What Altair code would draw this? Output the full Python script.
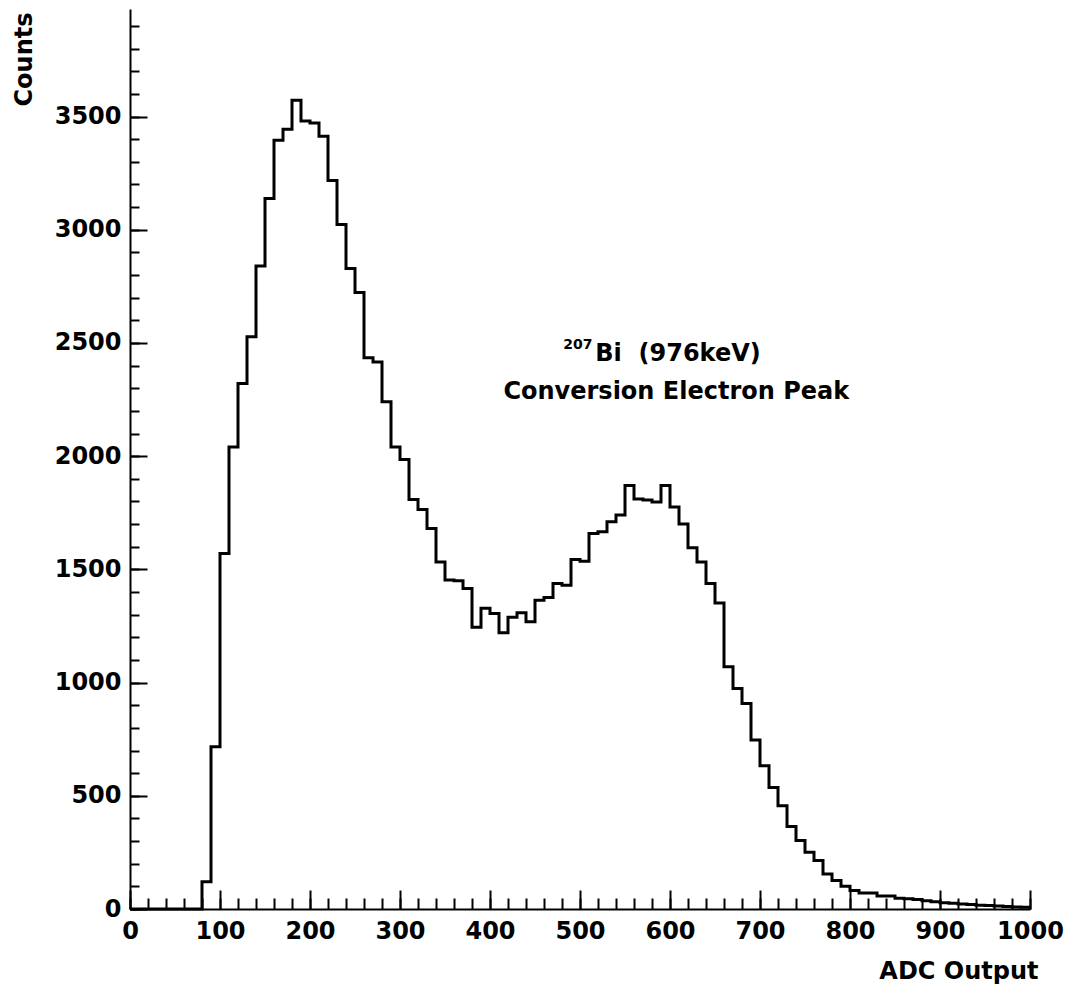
import altair as alt
import pandas as pd

# ---- data ----
bin_starts = list(range(0, 1000, 10))
counts = [
    0, 0, 0, 0, 0, 0, 0, 0, 120, 717,            # 0-90
    1570, 2041, 2321, 2527, 2840, 3138, 3395, 3444, 3572, 3480,   # 100-190
    3472, 3413, 3218, 3023, 2829, 2723, 2435, 2416, 2240, 2041,   # 200-290
    1985, 1809, 1765, 1681, 1533, 1453, 1450, 1416, 1244, 1328,   # 300-390
    1305, 1220, 1289, 1308, 1269, 1364, 1376, 1438, 1430, 1544,   # 400-490
    1536, 1658, 1666, 1710, 1740, 1870, 1811, 1806, 1798, 1870,   # 500-590
    1775, 1700, 1596, 1533, 1438, 1351, 1070, 974, 908, 746,      # 600-690
    633, 537, 456, 364, 302, 251, 214, 155, 126, 101,             # 700-790
    82, 71, 71, 57, 57, 47, 45, 42, 36, 32,                       # 800-890
    28, 25, 22, 20, 17, 15, 13, 11, 9, 8,                         # 900-990
]
x_major_ticks = list(range(0, 1001, 100))
x_minor_ticks = list(range(0, 1001, 20))
y_major_ticks = list(range(0, 3501, 500))
y_minor_ticks = list(range(0, 3901, 100))

x_title = "ADC Output"
y_title = "Counts"
note_sup = "207"
note_line1 = "Bi \u00a0(976keV)"
note_line2 = "Conversion Electron Peak"

# ---- build table ----
df = pd.DataFrame({"adc": bin_starts + [1000], "counts": counts + [counts[-1]]})

W, H = 900, 900
FONT = "DejaVu Sans"
FS = 24
xscale = alt.Scale(domain=[0, 1000], nice=False, zero=False)
yscale = alt.Scale(domain=[0, 3975], nice=False, zero=False)

hist = alt.Chart(df).mark_line(
    interpolate="step-after", color="black", strokeWidth=3
).encode(
    x=alt.X("adc:Q", scale=xscale, axis=alt.Axis(
        values=x_major_ticks, format="d", ticks=False, domainColor="black", domainWidth=2,
        labelFont=FONT, labelFontSize=FS, labelFontWeight="bold", labelColor="black",
        labelPadding=10, labelFlush=False, grid=False,
        title=x_title, titleFont=FONT, titleFontSize=FS, titleFontWeight="bold",
        titleColor="black", titleX=908, titleY=62, titleAlign="right",
        titleBaseline="middle", titleAngle=0)),
    y=alt.Y("counts:Q", scale=yscale, axis=alt.Axis(
        values=y_major_ticks, format="d", ticks=False, domainColor="black", domainWidth=2,
        labelFont=FONT, labelFontSize=FS, labelFontWeight="bold", labelColor="black",
        labelPadding=9, labelFlush=False, grid=False,
        title=y_title, titleFont=FONT, titleFontSize=FS, titleFontWeight="bold",
        titleColor="black", titleX=-106, titleY=3, titleAngle=270,
        titleAlign="right", titleBaseline="middle")),
)

def tick_layer(xv, xlen, yv, ylen):
    return alt.Chart(df).mark_point(opacity=0, size=1).encode(
        x=alt.X("adc:Q", scale=xscale, axis=alt.Axis(
            orient="top", offset=-H, values=xv, tickSize=xlen, tickWidth=2,
            tickColor="black", labels=False, domain=False, grid=False, title=None)),
        y=alt.Y("counts:Q", scale=yscale, axis=alt.Axis(
            orient="right", offset=-W, values=yv, tickSize=ylen, tickWidth=2,
            tickColor="black", labels=False, domain=False, grid=False, title=None)),
    )

minor = tick_layer(x_minor_ticks, 11, y_minor_ticks, 9)
major = tick_layer(x_major_ticks, 19, y_major_ticks, 17)

notes = pd.DataFrame({
    "adc": [514, 517, 607],
    "counts": [2490, 2450, 2283],
    "txt": [note_sup, note_line1, note_line2],
    "size": [14, FS, FS],
    "align": ["right", "left", "center"],
})

def note(i):
    row = notes.iloc[[i]]
    return alt.Chart(row).mark_text(
        font=FONT, fontWeight="bold", fontSize=int(row["size"].iloc[0]),
        align=row["align"].iloc[0], baseline="middle", color="black"
    ).encode(
        x=alt.X("adc:Q", scale=xscale, axis=None),
        y=alt.Y("counts:Q", scale=yscale, axis=None),
        text="txt:N",
    )

chart = alt.layer(minor, major, hist, note(0), note(1), note(2)).resolve_axis(
    x="independent", y="independent"
).properties(
    width=W, height=H,
    autosize=alt.AutoSizeParams(type="none"),
    padding={"left": 130, "top": 9, "right": 42, "bottom": 77},
    background="white",
).configure_view(strokeWidth=0)

chart.save("out.html", embed_options={"renderer": "svg", "actions": False})
